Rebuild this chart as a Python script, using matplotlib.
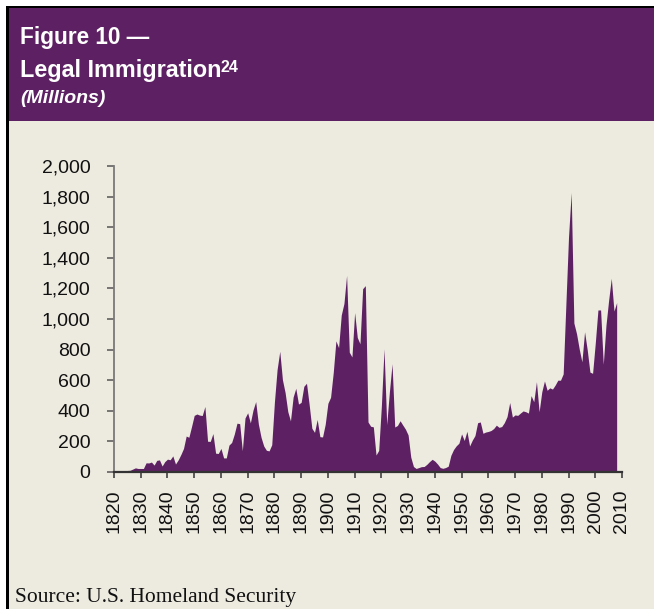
import matplotlib
matplotlib.use("Agg")
import matplotlib.pyplot as plt
from matplotlib.patches import Rectangle
from matplotlib.ticker import FuncFormatter
import numpy as np

# ---- data (thousands, labelled "Millions" in the original) ----
years = list(range(1820, 2009))
immigrants = [
    8, 9, 7, 6, 8, 10, 11, 19, 27, 23,            # 1820-1829
    23, 23, 60, 59, 65, 45, 76, 79, 39, 68,       # 1830-1839
    84, 80, 105, 52, 79, 114, 154, 235, 227, 297, # 1840-1849
    370, 379, 372, 369, 428, 201, 200, 251, 123, 121,   # 1850-1859
    154, 92, 92, 176, 193, 248, 319, 316, 139, 353,     # 1860-1869
    387, 321, 405, 460, 313, 227, 170, 142, 138, 178,   # 1870-1879
    457, 669, 789, 603, 519, 395, 334, 490, 547, 444,   # 1880-1889
    455, 560, 580, 440, 286, 259, 343, 231, 229, 312,   # 1890-1899
    449, 488, 649, 857, 813, 1026, 1101, 1285, 783, 752,  # 1900-1909
    1042, 879, 838, 1198, 1218, 327, 299, 295, 111, 141,  # 1910-1919
    430, 805, 310, 523, 707, 294, 304, 335, 307, 280,     # 1920-1929
    242, 97, 36, 23, 29, 35, 36, 50, 68, 83,              # 1930-1939
    71, 52, 29, 24, 29, 38, 109, 147, 171, 188,           # 1940-1949
    249, 206, 266, 170, 208, 238, 322, 327, 253, 261,     # 1950-1959
    265, 271, 284, 306, 292, 297, 323, 362, 454, 359,     # 1960-1969
    373, 370, 385, 399, 394, 385, 499, 459, 590, 394,     # 1970-1979
    524, 595, 534, 550, 542, 568, 600, 600, 641, 1090,    # 1980-1989
    1536, 1827, 974, 904, 804, 720, 916, 798, 653, 645,   # 1990-1999
    841, 1059, 1059, 704, 958, 1122, 1266, 1052, 1107,    # 2000-2008
]
x_ticks = list(range(1820, 2011, 10))
y_ticks = list(range(0, 2001, 200))

title1 = "Figure 10 \u2014"
title2 = "Legal Immigration"
title_sup = "24"
title3 = "(Millions)"
source = "Source: U.S. Homeland Security"

# ---- style ----
W, H = 654, 609
purple = "#5D2163"
beige = "#EDEAE0"

fig = plt.figure(figsize=(W / 100, H / 100), dpi=100)
fig.patch.set_facecolor(beige)

def px_rect(x0, y0, x1, y1, color, z=0):
    fig.add_artist(Rectangle((x0 / W, 1 - y1 / H), (x1 - x0) / W, (y1 - y0) / H,
                             transform=fig.transFigure, facecolor=color,
                             edgecolor="none", zorder=z))

px_rect(0, 0, W, 6, "white")
px_rect(0, 0, 6, H, "white")
px_rect(6, 5.5, W, 7.5, "black")
px_rect(6, 5.5, 9, H, "black")
px_rect(9, 7.5, W, 121, purple)

# ---- header text ----
tfont = "Liberation Sans"
fig.text(20 / W, 1 - 44 / H, title1, color="white", fontsize=16.3, fontweight="bold",
         family=tfont, va="baseline", ha="left")
t2 = fig.text(20 / W, 1 - 77 / H, title2, color="white", fontsize=16.8, fontweight="bold",
              family=tfont, va="baseline", ha="left")
fig.text(20 / W, 1 - 103 / H, title3, color="white", fontsize=14, fontweight="bold",
         style="italic", family=tfont, va="baseline", ha="left")
fig.canvas.draw()
bb = t2.get_window_extent()
fig.text((bb.x1 - 1) / W, 1 - 72 / H, title_sup, color="white", fontsize=11.5,
         fontweight="bold", family=tfont, va="baseline", ha="left")

fig.text(15 / W, 1 - 602 / H, source, color="#111111", fontsize=15.5,
         family="Liberation Serif", va="baseline", ha="left")

# ---- chart ----
ax = fig.add_axes([114 / W, (H - 472) / H, 508 / W, 306 / H])
ax.set_facecolor("none")
ax.fill_between(years, immigrants, 0, color=purple, linewidth=0)
ax.set_xlim(1820, 2010)
ax.set_ylim(0, 2000)
ax.set_xticks(x_ticks)
ax.set_yticks(y_ticks)
ax.yaxis.set_major_formatter(FuncFormatter(lambda v, p: f"{int(v):,}"))
for lab in ax.get_xticklabels():
    lab.set_rotation(90)

for s in ["top", "right"]:
    ax.spines[s].set_visible(False)
ax.spines["left"].set_color("#7a7a7a")
ax.spines["left"].set_linewidth(1.3)
ax.spines["bottom"].set_color("#333333")
ax.spines["bottom"].set_linewidth(1.6)

ax.tick_params(axis="y", direction="out", length=5, width=1.1, color="#555555",
               pad=12, labelsize=14, labelcolor="#111111")
ax.tick_params(axis="x", direction="out", length=4.5, width=1.1, color="#333333",
               pad=8, labelsize=14, labelcolor="#111111")
for lab in ax.get_xticklabels() + ax.get_yticklabels():
    lab.set_family(tfont)

fig.savefig("out.png", dpi=100, facecolor=fig.get_facecolor())
